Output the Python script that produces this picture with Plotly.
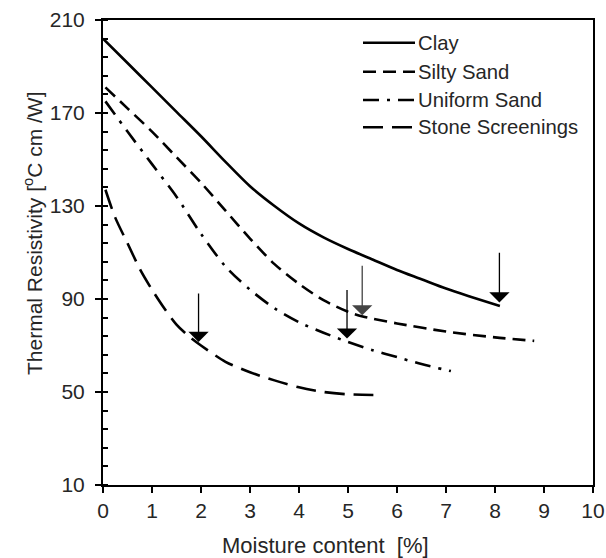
import plotly.graph_objects as go

# ---------------- data ----------------
clay_x = [0, 0.5, 1, 1.5, 2, 2.5, 3, 3.5, 4, 4.5, 5, 5.5, 6, 6.5, 7, 7.5, 8.1]
clay_y = [202, 191.5, 181, 170.5, 160, 149, 138.5, 130, 122.5, 116.5, 111.5, 107, 102.5, 98.5, 94.5, 91, 87]

silty_x = [0.05, 0.5, 1, 1.5, 2, 2.5, 3, 3.5, 4, 4.5, 5, 5.3, 6, 7, 8, 8.8]
silty_y = [181, 172, 162, 151, 140, 128, 116, 105, 96.5, 89.5, 84.5, 82.5, 79.5, 76, 73.5, 72]

uniform_x = [0.05, 0.5, 1, 1.5, 2, 2.5, 3, 3.5, 4, 4.5, 5, 5.5, 6, 6.5, 7.1]
uniform_y = [175, 162, 148, 134, 118, 104, 94, 86, 80, 75.5, 71.5, 68, 65, 62, 59]

stone_x = [0.05, 0.25, 0.5, 0.75, 1, 1.25, 1.5, 1.75, 2, 2.5, 3, 3.5, 4, 4.5, 5, 5.7]
stone_y = [137, 125, 114, 103, 94, 86, 79, 74, 70, 63, 58.5, 55, 52, 50, 49, 48.7]

# arrows: (x, tail y, tip y)
arrow_x = [1.95, 4.98, 5.29, 8.09]
arrow_top = [93, 94.5, 105, 110.5]
arrow_tip = [71.5, 73, 83, 88.5]
arrow_col = ["#000000", "#000000", "#444444", "#000000"]

series_names = ["Clay", "Silty Sand", "Uniform Sand", "Stone Screenings"]
series_dash = ["solid", "13px,7px", "16px,8px,3px,8px", "20px,9px"]

x_ticks = list(range(0, 11))
y_ticks = [10, 50, 90, 130, 170, 210]

x_title = "Moisture content  [%]"
y_title = "Thermal Resistivity [<sup>o</sup>C cm /W]"

FONT = "Arial, Liberation Sans, sans-serif"
TXT = "#262626"

# ---------------- figure ----------------
fig = go.Figure()
series = [(clay_x, clay_y), (silty_x, silty_y), (uniform_x, uniform_y), (stone_x, stone_y)]
for (xs, ys), name, dash in zip(series, series_names, series_dash):
    fig.add_trace(go.Scatter(
        x=xs, y=ys, mode="lines", name=name, showlegend=False,
        line=dict(color="black", width=2.6, dash=dash, shape="spline", smoothing=0.8),
    ))

for ax_, top, tip, col in zip(arrow_x, arrow_top, arrow_tip, arrow_col):
    fig.add_annotation(
        x=ax_, y=tip, ax=ax_, ay=top, xref="x", yref="y", axref="x", ayref="y",
        text="", showarrow=True, arrowhead=1, arrowsize=2.6, arrowwidth=1.3,
        arrowcolor=col,
    )

# layout helpers (pixel -> paper)
L, R, T, B = 103, 593, 20, 485
def px(xp):
    return (xp - L) / (R - L)
def py(yp):
    return (B - yp) / (B - T)

# manual legend
legend_rows = [42.7, 71.7, 100, 127.3]
for name, dash, row in zip(series_names, series_dash, legend_rows):
    fig.add_shape(type="line", xref="paper", yref="paper",
                  x0=px(363), x1=px(415), y0=py(row), y1=py(row),
                  line=dict(color="black", width=2.6, dash=dash))
    fig.add_annotation(xref="paper", yref="paper", x=px(416), y=py(row),
                       text=name, showarrow=False, xanchor="left", yanchor="middle",
                       font=dict(family=FONT, size=20.3, color=TXT))

# axis titles
fig.add_annotation(xref="paper", yref="paper", x=px(325), y=py(545),
                   text=x_title, showarrow=False, xanchor="center", yanchor="middle",
                   font=dict(family=FONT, size=22, color=TXT))
fig.add_annotation(xref="paper", yref="paper", x=px(33), y=py(233),
                   text=y_title, showarrow=False, xanchor="center", yanchor="middle",
                   textangle=-90, font=dict(family=FONT, size=21, color=TXT))

fig.update_xaxes(
    range=[0, 10], tickmode="array", tickvals=x_ticks,
    ticks="outside", ticklen=6, tickwidth=2, tickcolor="black",
    showline=True, linewidth=2, linecolor="black", mirror=True,
    showgrid=False, zeroline=False, automargin=False,
    tickfont=dict(family=FONT, size=21, color=TXT),
)
fig.update_yaxes(
    range=[10, 210], tickmode="array", tickvals=y_ticks,
    ticks="outside", ticklen=6, tickwidth=2, tickcolor="black",
    ticklabelstandoff=6,
    minor=dict(tick0=10, dtick=8, ticks="inside", ticklen=5, tickwidth=2, tickcolor="black"),
    showline=True, linewidth=2, linecolor="black", mirror=True,
    showgrid=False, zeroline=False, automargin=False,
    tickfont=dict(family=FONT, size=21, color=TXT),
)
fig.update_layout(
    width=606, height=558,
    margin=dict(l=L, r=606 - R, t=T, b=558 - B, pad=0),
    plot_bgcolor="white", paper_bgcolor="white",
    showlegend=False,
)
fig.write_html("out.html")
